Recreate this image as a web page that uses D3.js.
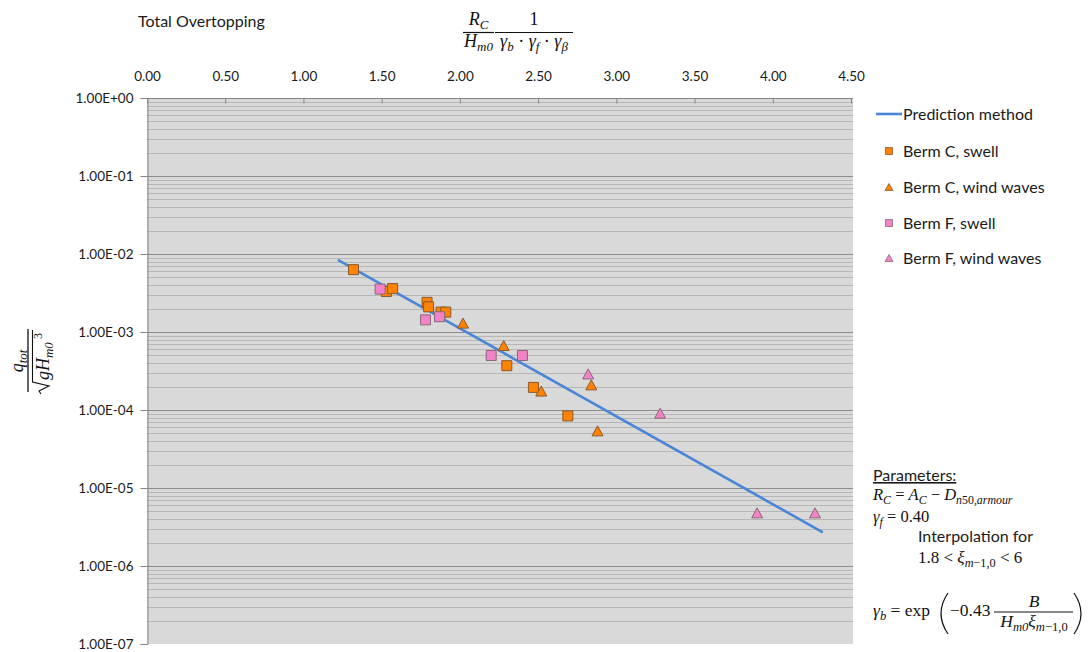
<!DOCTYPE html>
<html>
<head>
<meta charset="utf-8">
<script src="https://cdn.jsdelivr.net/npm/d3@7"></script>
<style>
  body { margin: 0; background: #ffffff; }
</style>
</head>
<body>
<svg id="chart" width="1088" height="652"></svg>
<script>
// ---- data ----
const xTickValues = [0, 0.5, 1, 1.5, 2, 2.5, 3, 3.5, 4, 4.5];
const xTickLabels = ["0.00", "0.50", "1.00", "1.50", "2.00", "2.50", "3.00", "3.50", "4.00", "4.50"];
const yTickValues = [1e0, 1e-1, 1e-2, 1e-3, 1e-4, 1e-5, 1e-6, 1e-7];
const yTickLabels = ["1.00E+00", "1.00E-01", "1.00E-02", "1.00E-03", "1.00E-04", "1.00E-05", "1.00E-06", "1.00E-07"];

// prediction method (straight line on the log axis)
const predictionX = [1.22, 4.32];
const predictionY = [8.4e-3, 2.7e-6];

const bermCSwellX = [1.32, 1.53, 1.57, 1.79, 1.80, 1.88, 1.91, 2.30, 2.47, 2.69];
const bermCSwellY = [6.3e-3, 3.3e-3, 3.6e-3, 2.4e-3, 2.1e-3, 1.8e-3, 1.8e-3, 3.7e-4, 1.95e-4, 8.4e-5];

const bermCWindX = [2.02, 2.28, 2.52, 2.84, 2.88];
const bermCWindY = [1.3e-3, 6.7e-4, 1.75e-4, 2.1e-4, 5.4e-5];

const bermFSwellX = [1.49, 1.78, 1.87, 2.20, 2.40];
const bermFSwellY = [3.55e-3, 1.43e-3, 1.57e-3, 5.0e-4, 5.0e-4];

const bermFWindX = [2.82, 3.28, 3.90, 4.27];
const bermFWindY = [2.9e-4, 9.1e-5, 4.8e-6, 4.8e-6];

const seriesNames = ["Berm C, swell", "Berm C, wind waves", "Berm F, swell", "Berm F, wind waves"];

// ---- styling ----
const ORANGE = "#ff8204", ORANGE_EDGE = "#8a5a2c";
const PINK = "#f283c6", PINK_EDGE = "#8a6878";
const LINE_BLUE = "#4a86d6";
const SANS = "Lato, 'Open Sans', sans-serif";
const SERIF = "'Liberation Serif', 'DejaVu Serif', serif";

const svg = d3.select("#chart");
const plotLeft = 147, plotRight = 851, plotTop = 98, plotBottom = 644;

const x = d3.scaleLinear().domain([0, 4.5]).range([plotLeft, plotRight]);
const y = d3.scaleLog().domain([1e-7, 1]).range([plotBottom, plotTop]);

// plot background
svg.append("rect")
  .attr("x", plotLeft).attr("y", plotTop)
  .attr("width", plotRight - plotLeft + 2).attr("height", plotBottom - plotTop)
  .attr("fill", "#d9d9d9");

// minor horizontal grid
const minor = [];
for (let e = -7; e < 0; e++) for (let k = 2; k <= 9; k++) minor.push(k * Math.pow(10, e));
svg.append("g").selectAll("line").data(minor).join("line")
  .attr("x1", plotLeft).attr("x2", plotRight + 2)
  .attr("y1", d => Math.round(y(d)) + 0.5).attr("y2", d => Math.round(y(d)) + 0.5)
  .attr("stroke", "#b6b6b6").attr("stroke-width", 1);

// major horizontal grid
svg.append("g").selectAll("line").data(yTickValues.slice(0, -1)).join("line")
  .attr("x1", plotLeft).attr("x2", plotRight + 2)
  .attr("y1", d => Math.round(y(d)) + 0.5).attr("y2", d => Math.round(y(d)) + 0.5)
  .attr("stroke", "#8c8c8c").attr("stroke-width", 1.2);

// y axis (left)
const yAxis = d3.axisLeft(y).tickValues(yTickValues)
  .tickFormat((d, i) => yTickLabels[i]).tickSize(7).tickPadding(7);
const gy = svg.append("g").attr("transform", `translate(${plotLeft + 0.5},0)`).call(yAxis);
gy.select(".domain").attr("stroke", "#868686");
gy.selectAll(".tick line").attr("stroke", "#868686");
gy.selectAll(".tick text").style("font-family", SANS).style("font-size", "13.5px").attr("fill", "#1a1a1a");

// x axis (top)
const xAxis = d3.axisTop(x).tickValues(xTickValues)
  .tickFormat((d, i) => xTickLabels[i]).tickSizeOuter(0).tickSizeInner(-5).tickPadding(18);
const gx = svg.append("g").attr("transform", `translate(0,${plotTop + 0.5})`).call(xAxis);
gx.select(".domain").attr("stroke", "#868686").attr("d", `M${plotLeft},0H${plotRight + 2}`);
gx.selectAll(".tick line").attr("stroke", "#868686");
gx.selectAll(".tick text").style("font-family", SANS).style("font-size", "13.5px").attr("fill", "#1a1a1a");

// prediction line
const pred = predictionX.map((v, i) => [v, predictionY[i]]);
svg.append("path")
  .attr("d", d3.line().x(d => x(d[0])).y(d => y(d[1]))(pred))
  .attr("fill", "none").attr("stroke", LINE_BLUE).attr("stroke-width", 2.6);

// marker shapes
function squarePath(s) { const h = s / 2; return `M${-h},${-h}H${h}V${h}H${-h}Z`; }
function trianglePath(w, h) { return `M0,${-h / 2}L${w / 2},${h / 2}L${-w / 2},${h / 2}Z`; }

function drawSeries(xs, ys, shape, fill, edge) {
  const pts = xs.map((v, i) => [v, ys[i]]);
  svg.append("g").selectAll("path").data(pts).join("path")
    .attr("transform", d => `translate(${x(d[0])},${y(d[1])})`)
    .attr("d", shape)
    .attr("fill", fill).attr("stroke", edge).attr("stroke-width", 1);
}
drawSeries(bermCSwellX, bermCSwellY, squarePath(10), ORANGE, ORANGE_EDGE);
drawSeries(bermFSwellX, bermFSwellY, squarePath(10), PINK, PINK_EDGE);
drawSeries(bermCWindX, bermCWindY, trianglePath(11, 10), ORANGE, ORANGE_EDGE);
drawSeries(bermFWindX, bermFWindY, trianglePath(11, 10), PINK, PINK_EDGE);

// plain text helper
function label(parent, xPos, yPos, str, size) {
  return parent.append("text").attr("x", xPos).attr("y", yPos)
    .style("font-family", SANS).style("font-size", size + "px")
    .attr("fill", "#1a1a1a").text(str);
}

// legend
const lg = svg.append("g");
lg.append("line").attr("x1", 876).attr("x2", 902).attr("y1", 114).attr("y2", 114)
  .attr("stroke", LINE_BLUE).attr("stroke-width", 2.6);
label(lg, 903, 119.5, "Prediction method", 16);
const legendShapes = [
  [squarePath(7), ORANGE, ORANGE_EDGE],
  [trianglePath(8, 7), ORANGE, ORANGE_EDGE],
  [squarePath(7), PINK, PINK_EDGE],
  [trianglePath(8, 7), PINK, PINK_EDGE]
];
const legendY = [151, 187, 223, 258];
seriesNames.forEach((name, i) => {
  lg.append("path").attr("transform", `translate(889,${legendY[i]})`)
    .attr("d", legendShapes[i][0]).attr("fill", legendShapes[i][1])
    .attr("stroke", legendShapes[i][2]).attr("stroke-width", 0.8);
  label(lg, 903, legendY[i] + 5.5, name, 16);
});

// title
label(svg, 138, 27, "Total Overtopping", 16);

// math text helper: parts are [string, kind]; kind: i (italic), r (roman),
// sub / subr (subscript italic / roman)
function mathText(parent, xPos, yPos, parts, size, anchor) {
  const t = parent.append("text")
    .attr("x", xPos).attr("y", yPos)
    .style("font-family", SERIF).style("font-size", size + "px")
    .attr("text-anchor", anchor || "start").attr("fill", "#111")
    .style("white-space", "pre");
  let cur = 0;
  parts.forEach(([s, k]) => {
    let off = 0, fs = size, st = "italic";
    if (k.startsWith("sub")) { off = size * 0.24; fs = size * 0.72; }
    if (k === "r" || k === "subr") st = "normal";
    t.append("tspan").attr("dy", off - cur).style("font-size", fs + "px")
      .style("font-style", st).text(s);
    cur = off;
  });
  return t;
}
function hline(parent, x1, x2, yy, w) {
  parent.append("line").attr("x1", x1).attr("x2", x2).attr("y1", yy).attr("y2", yy)
    .attr("stroke", "#111").attr("stroke-width", w || 1.2);
}

// x-axis quantity: Rc/Hm0 * 1/(gb*gf*gbeta)
const xf = svg.append("g");
mathText(xf, 478.5, 25, [["R", "i"], ["C", "sub"]], 18, "middle");
hline(xf, 463, 494, 32.5);
mathText(xf, 478.5, 47, [["H", "i"], ["m0", "sub"]], 18, "middle");
mathText(xf, 534, 25, [["1", "r"]], 18, "middle");
hline(xf, 495, 573, 32.5);
mathText(xf, 534, 47, [["γ", "i"], ["b", "sub"], [" · ", "r"], ["γ", "i"], ["f", "sub"],
  [" · ", "r"], ["γ", "i"], ["β", "sub"]], 18, "middle");

// y-axis quantity: q_tot / sqrt(g Hm0^3), rotated
const yl = svg.append("g").attr("transform", "translate(28,361) rotate(-90)");
hline(yl, -31, 32, 0, 1.3);
mathText(yl, 0, -5, [["q", "i"], ["tot", "sub"]], 18, "middle");
yl.append("path")
  .attr("d", "M-33,13 L-30,11 L-25,21 L-21,4.5 L31,4.5")
  .attr("fill", "none").attr("stroke", "#111").attr("stroke-width", 1.1);
mathText(yl, -19, 21, [["g", "i"], ["H", "i"], ["m0", "sub"]], 18, "start");
mathText(yl, 22, 14, [["3", "r"]], 12, "start");

// parameters block
const pb = svg.append("g");
label(pb, 873, 481, "Parameters:", 16).attr("text-decoration", "underline");
mathText(pb, 873, 500, [["R", "i"], ["C", "sub"], [" = ", "r"], ["A", "i"], ["C", "sub"],
  [" − ", "r"], ["D", "i"], ["n", "sub"], ["50,", "subr"], ["armour", "sub"]], 16.5);
mathText(pb, 873, 522, [["γ", "i"], ["f", "sub"], [" = 0.40", "r"]], 16.5);
label(pb, 918, 542, "Interpolation for", 16);
mathText(pb, 918, 563, [["1.8 < ", "r"], ["ξ", "i"], ["m", "sub"], ["−1,0", "subr"], [" < 6", "r"]], 17);

mathText(pb, 873, 616, [["γ", "i"], ["b", "sub"], [" = exp", "r"]], 17.5);
pb.append("path").attr("d", "M948,593 Q934,613.5 948,634")
  .attr("fill", "none").attr("stroke", "#111").attr("stroke-width", 1.2);
mathText(pb, 950, 616, [["−0.43", "r"]], 17.5);
hline(pb, 994, 1073, 612);
mathText(pb, 1034, 607, [["B", "i"]], 17.5, "middle");
mathText(pb, 1034, 627, [["H", "i"], ["m0", "sub"], ["ξ", "i"], ["m", "sub"], ["−1,0", "subr"]], 17.5, "middle");
pb.append("path").attr("d", "M1074,593 Q1088,613.5 1074,634")
  .attr("fill", "none").attr("stroke", "#111").attr("stroke-width", 1.2);
</script>
</body>
</html>
